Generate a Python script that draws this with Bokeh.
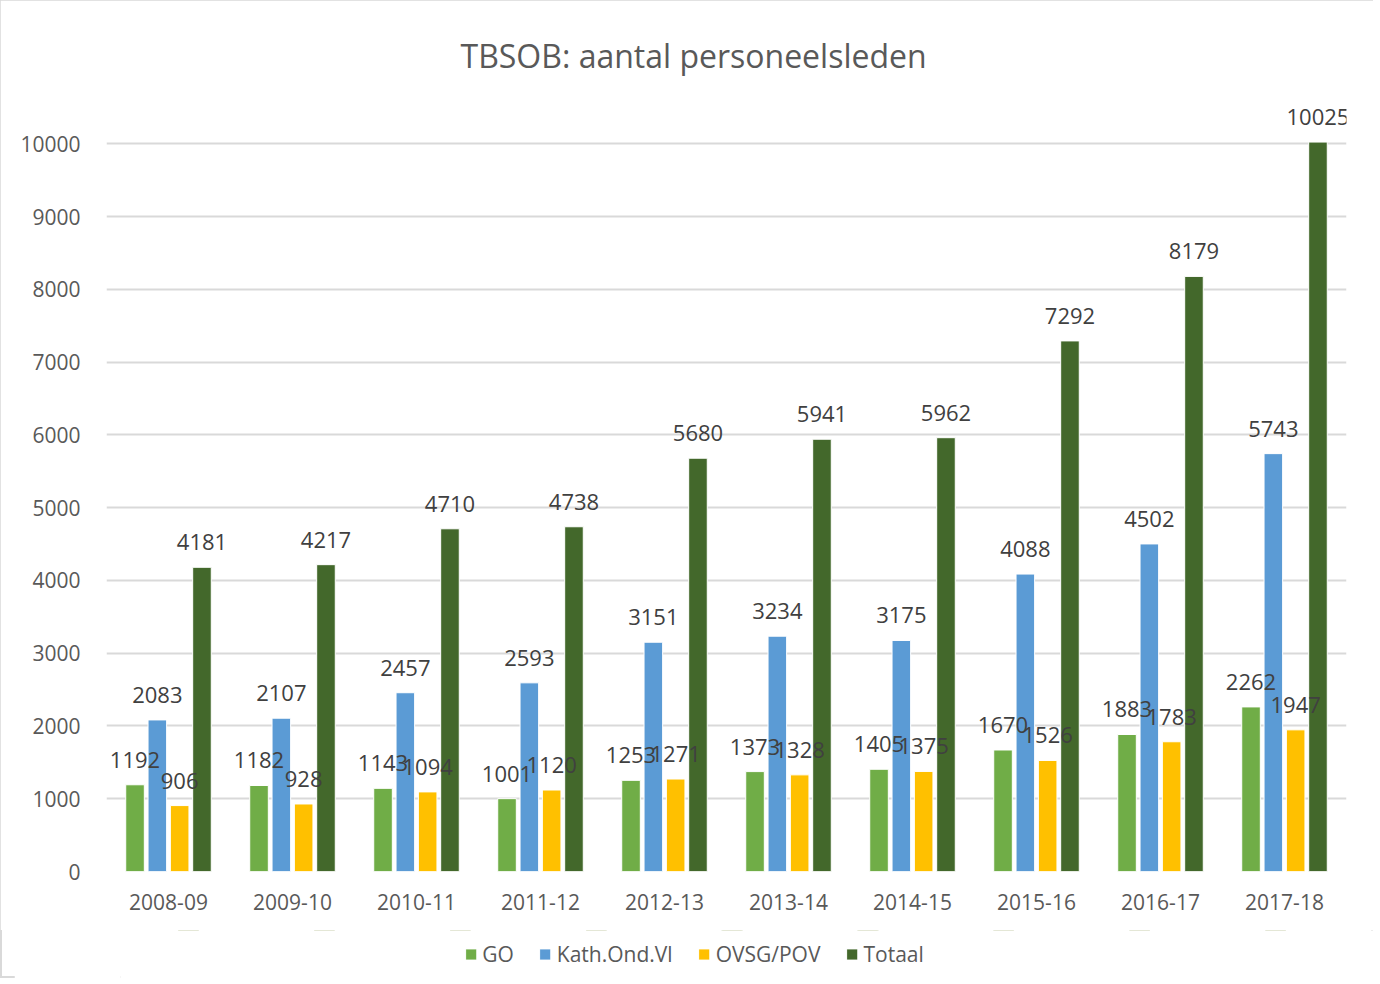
from bokeh.plotting import figure
from bokeh.layouts import column
from bokeh.models import ColumnDataSource, FactorRange, Legend, LegendItem, FixedTicker, Title
from bokeh.transform import dodge
from bokeh.embed import file_html
from bokeh.resources import INLINE
from bokeh.core.properties import value

years = ["2008-09", "2009-10", "2010-11", "2011-12", "2012-13",
         "2013-14", "2014-15", "2015-16", "2016-17", "2017-18"]
go = [1192, 1182, 1143, 1001, 1253, 1373, 1405, 1670, 1883, 2262]
kath = [2083, 2107, 2457, 2593, 3151, 3234, 3175, 4088, 4502, 5743]
ovsg = [906, 928, 1094, 1120, 1271, 1328, 1375, 1526, 1783, 1947]
totaal = [4181, 4217, 4710, 4738, 5680, 5941, 5962, 7292, 8179, 10025]
series_names = ["GO", "Kath.Ond.Vl", "OVSG/POV", "Totaal"]
colors = ["#70AD47", "#5B9BD5", "#FFC000", "#43682B"]
y_ticks = [0, 1000, 2000, 3000, 4000, 5000, 6000, 7000, 8000, 9000, 10000]

FONT = "Open Sans"
TXT = "#595959"

src = ColumnDataSource(dict(year=years, go=go, kath=kath, ovsg=ovsg, totaal=totaal))
keys = ["go", "kath", "ovsg", "totaal"]
for key, vals in zip(keys, [go, kath, ovsg, totaal]):
    src.data[key + "_lbl"] = [str(v) for v in vals]

p = figure(x_range=FactorRange(*years, range_padding=0), y_range=(0, 10500),
           frame_width=1240, frame_height=764, output_backend="svg", toolbar_location=None,
           min_border_left=106, min_border_right=27, min_border_top=107, min_border_bottom=59)

p.title = Title(text="TBSOB: aantal personeelsleden", align="left",
                text_font=FONT, text_font_size="32px", text_font_style="normal",
                text_color=TXT, standoff=62, offset=354)

offsets = [-0.27, -0.09, 0.09, 0.27]
for key, off, col in zip(keys, offsets, colors):
    p.vbar(x=dodge("year", off, range=p.x_range), top=key, width=0.15, source=src,
           fill_color=col, line_color="white", line_width=1)
for key, off in zip(keys, offsets):
    p.text(x=dodge("year", off, range=p.x_range), y=key, text=key + "_lbl", source=src,
           text_align="center", text_baseline="middle", y_offset=-25,
           text_font=value(FONT), text_font_size="22px", text_color="#404040")

p.yaxis.ticker = FixedTicker(ticks=y_ticks)
p.ygrid.ticker = FixedTicker(ticks=y_ticks)
p.xgrid.grid_line_color = None
p.ygrid.grid_line_color = "#d9d9d9"
p.ygrid.grid_line_width = 2
p.outline_line_color = None

for ax in (p.xaxis, p.yaxis):
    ax.axis_line_color = None
    ax.major_tick_line_color = None
    ax.minor_tick_line_color = None
    ax.major_label_text_font = FONT
    ax.major_label_text_font_size = "21px"
    ax.major_label_text_color = TXT
p.yaxis.major_label_standoff = 20
p.xaxis.major_label_standoff = 16

# legend strip below the chart (its series renderers have zero height and sit outside the view)
lf = figure(x_range=FactorRange(*years), y_range=(-200000, -190000),
            frame_width=1359, frame_height=48, output_backend="svg", toolbar_location=None,
            min_border=0, min_border_left=0, min_border_right=0, min_border_top=0,
            min_border_bottom=0, outline_line_color=None, margin=(0, 0, 0, 14))
lf.axis.visible = False
lf.grid.visible = False
items = []
for key, col, name in zip(keys, colors, series_names):
    r = lf.vbar(x="year", top=key, bottom=key, width=0.15, source=src,
                fill_color=col, line_color="white", line_width=1)
    items.append(LegendItem(label=name, renderers=[r]))
legend = Legend(items=items, orientation="horizontal", location="center",
                label_text_font=FONT, label_text_font_size="21px", label_text_color=TXT,
                glyph_width=14, glyph_height=14, spacing=24, border_line_color=None,
                background_fill_alpha=0, margin=0, padding=0, label_standoff=5)
lf.add_layout(legend, "center")

layout = column(p, lf, spacing=0)
layout.styles = {"outline": "2px solid #d9d9d9", "outline-offset": "-2px"}

open("out.html", "w").write(file_html(layout, INLINE))
